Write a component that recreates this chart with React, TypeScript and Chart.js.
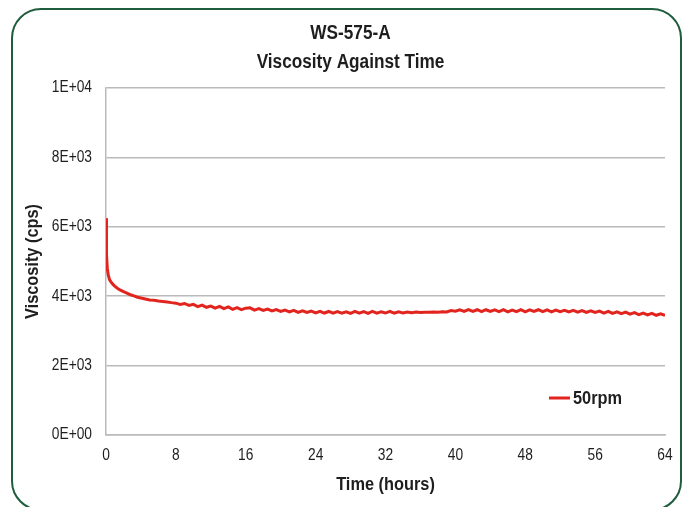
import { useEffect, useRef } from 'react';
import { Chart, registerables } from 'chart.js';

Chart.register(...registerables);

const FONT = "'Liberation Sans', Arial, Helvetica, sans-serif";
const TEXT_SCALE_X = 0.86;

const titleLines = ['WS-575-A', 'Viscosity Against Time'];
const xAxisTitle = 'Time (hours)';
const yAxisTitle = 'Viscosity (cps)';
const seriesLabel = '50rpm';
const yTickLabels = ['0E+00', '2E+03', '4E+03', '6E+03', '8E+03', '1E+04'];

const timeHours = [
  0, 0.03, 0.08, 0.15, 0.25, 0.4, 0.6, 0.8, 1.0, 1.3, 1.6, 2.0, 2.4, 2.8, 3.2, 3.6, 4.0, 4.5, 5.0, 5.5, 6.0,
  6.5, 7.0, 7.5, 8.0, 8.5, 9.0, 9.5, 10.0, 10.5, 11.0, 11.5, 12.0, 12.5, 13.0, 13.5, 14.0, 14.5, 15.0, 15.5, 16.0,
  16.5, 17.0, 17.5, 18.0, 18.5, 19.0, 19.5, 20.0, 20.5, 21.0, 21.5, 22.0, 22.5, 23.0, 23.5, 24.0,
  24.5, 25.0, 25.5, 26.0, 26.5, 27.0, 27.5, 28.0, 28.5, 29.0, 29.5, 30.0, 30.5, 31.0, 31.5, 32.0,
  32.5, 33.0, 33.5, 34.0, 34.5, 35.0, 35.5, 36.0, 36.5, 37.0, 37.5, 38.0, 38.5, 39.0, 39.5, 40.0,
  40.5, 41.0, 41.5, 42.0, 42.5, 43.0, 43.5, 44.0, 44.5, 45.0, 45.5, 46.0, 46.5, 47.0, 47.5, 48.0,
  48.5, 49.0, 49.5, 50.0, 50.5, 51.0, 51.5, 52.0, 52.5, 53.0, 53.5, 54.0, 54.5, 55.0, 55.5, 56.0,
  56.5, 57.0, 57.5, 58.0, 58.5, 59.0, 59.5, 60.0, 60.5, 61.0, 61.5, 62.0, 62.5, 63.0, 63.5, 64.0,
];

const viscosity50rpm = [
  6250, 5800, 5200, 4800, 4620, 4480, 4400, 4340, 4290, 4230, 4180, 4130, 4090, 4040, 4010, 3970, 3950, 3920, 3890, 3880, 3860,
  3850, 3835, 3815, 3800, 3760, 3790, 3735, 3765, 3700, 3745, 3680, 3715, 3655, 3705, 3640, 3690, 3620, 3670, 3615, 3655,
  3665, 3600, 3645, 3590, 3630, 3575, 3615, 3560, 3600, 3550, 3590, 3535, 3580, 3530, 3570, 3520,
  3565, 3515, 3560, 3510, 3555, 3510, 3550, 3505, 3560, 3510, 3555, 3505, 3560, 3510, 3550, 3515,
  3565, 3510, 3550, 3520, 3545, 3525, 3545, 3530, 3535, 3540, 3545, 3540, 3550, 3545, 3585, 3570,
  3610, 3560, 3615, 3565, 3610, 3555, 3610, 3560, 3605, 3555, 3610, 3550, 3600, 3555, 3610, 3550,
  3605, 3560, 3610, 3555, 3605, 3550, 3600, 3555, 3595, 3545, 3590, 3540, 3585, 3535, 3580, 3530,
  3570, 3515, 3565, 3505, 3550, 3495, 3540, 3485, 3525, 3470, 3515, 3460, 3505, 3450, 3490, 3445,
];

const LINE_COLOR = '#e1241d';
const GRID_COLOR = '#bababa';
const TEXT_COLOR = '#1e1e1e';

// Draws all chart text slightly condensed (horizontal scale about the anchor point).
const condensedText = {
  id: 'condensedText',
  beforeInit(chart: any) {
    const ctx = chart.ctx;
    const orig = ctx.fillText.bind(ctx);
    ctx.fillText = (text: string, x: number, y: number, maxWidth?: number) => {
      ctx.save();
      ctx.translate(x, y);
      ctx.scale(TEXT_SCALE_X, 1);
      if (maxWidth !== undefined && maxWidth !== null) orig(text, 0, 0, maxWidth / TEXT_SCALE_X);
      else orig(text, 0, 0);
      ctx.restore();
    };
  },
};

const insideLegend = {
  id: 'insideLegend',
  afterDraw(chart: any) {
    const { ctx, chartArea } = chart;
    const ds = chart.data.datasets[0];
    const x0 = chartArea.right - 116;
    const y0 = chartArea.bottom - 37;
    ctx.save();
    ctx.strokeStyle = ds.borderColor;
    ctx.lineWidth = 3;
    ctx.beginPath();
    ctx.moveTo(x0, y0);
    ctx.lineTo(x0 + 21, y0);
    ctx.stroke();
    ctx.fillStyle = TEXT_COLOR;
    ctx.font = `bold 19px ${FONT}`;
    ctx.textAlign = 'left';
    ctx.textBaseline = 'middle';
    ctx.fillText(ds.label, x0 + 24, y0 + 1);
    ctx.restore();
  },
};

export default function App() {
  const canvasRef = useRef<HTMLCanvasElement | null>(null);

  useEffect(() => {
    if (!canvasRef.current) return;
    const chart = new Chart(canvasRef.current, {
      type: 'line',
      data: {
        datasets: [
          {
            label: seriesLabel,
            data: timeHours.map((t, i) => ({ x: t, y: viscosity50rpm[i] })),
            borderColor: LINE_COLOR,
            backgroundColor: LINE_COLOR,
            borderWidth: 3,
            pointRadius: 0,
            tension: 0,
          },
        ],
      },
      options: {
        animation: false,
        responsive: false,
        devicePixelRatio: 1,
        layout: { padding: { left: 36, right: 22, top: 14, bottom: 0 } },
        plugins: {
          legend: { display: false },
          tooltip: { enabled: false },
          title: {
            display: true,
            text: titleLines,
            color: TEXT_COLOR,
            font: { family: FONT, size: 20, weight: 'bold', lineHeight: 1.45 },
            padding: { top: 5, bottom: 11 },
          },
        },
        scales: {
          x: {
            type: 'linear',
            min: 0,
            max: 64,
            ticks: { stepSize: 8, color: TEXT_COLOR, font: { family: FONT, size: 16 }, padding: 11, maxRotation: 0 },
            grid: { display: false, drawTicks: false },
            border: { display: true, color: GRID_COLOR, width: 1.5 },
            title: {
              display: true,
              text: xAxisTitle,
              color: TEXT_COLOR,
              font: { family: FONT, size: 19, weight: 'bold', lineHeight: 1.2 },
              padding: { top: 4, bottom: 10.5 },
            },
            afterFit: (s: any) => { s.height = 72; },
          },
          y: {
            min: 0,
            max: 10000,
            ticks: {
              stepSize: 2000,
              color: TEXT_COLOR,
              font: { family: FONT, size: 16 },
              padding: 14,
              callback: (_v: any, i: number) => yTickLabels[i],
            },
            grid: { color: GRID_COLOR, lineWidth: 1.5, drawTicks: false },
            border: { display: true, color: GRID_COLOR, width: 1.5 },
            title: {
              display: true,
              text: yAxisTitle,
              color: TEXT_COLOR,
              font: { family: FONT, size: 19, weight: 'bold', lineHeight: 1.2 },
              padding: { top: -14.5, bottom: 0 },
            },
            afterFit: (s: any) => { s.width = 70; },
          },
        },
      },
      plugins: [condensedText, insideLegend],
    });
    return () => chart.destroy();
  }, []);

  return (
    <div style={{ position: 'fixed', left: 0, top: 0, width: 687, height: 507, overflow: 'hidden', background: '#fff' }}>
      <div
        style={{
          position: 'absolute',
          left: 11,
          top: 8,
          width: 671,
          height: 503,
          boxSizing: 'border-box',
          border: '2px solid #1e5d3d',
          borderRadius: 30,
        }}
      />
      <canvas ref={canvasRef} width={687} height={507} style={{ position: 'absolute', left: 0, top: 0 }} />
    </div>
  );
}
